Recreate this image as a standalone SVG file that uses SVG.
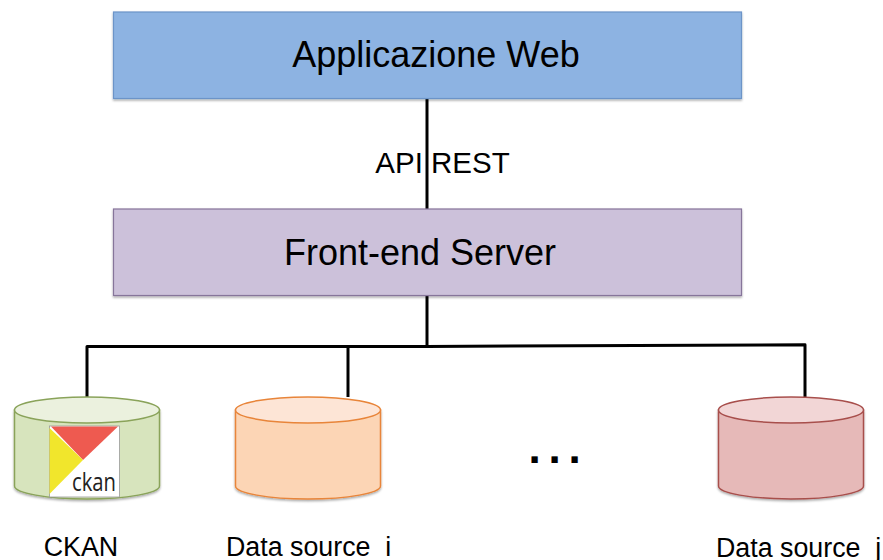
<svg xmlns="http://www.w3.org/2000/svg" width="883" height="560" viewBox="0 0 883 560">
<defs>
<style>
text{font-family:"Liberation Sans",Arial,sans-serif;fill:#000}
.big{font-size:36px}
.mid{font-size:29.500px}
.lab{font-size:26.800px}
.conn{fill:none;stroke:#000;stroke-width:3;stroke-linejoin:round}
.box{stroke-width:1.2}
.cyl{stroke-width:1.5}
</style>
<filter id="sh" x="-5%" y="-5%" width="110%" height="115%"><feDropShadow dx="0" dy="1.5" stdDeviation="1" flood-color="#000" flood-opacity="0.35"/></filter>
</defs>
<g id="connectors">
<path class="conn" d="M427 98V209"/>
<path class="conn" d="M427 295V346"/>
<path class="conn" d="M87 397V346.500H427L805 344.700V397"/>
<path class="conn" d="M348 346.500V397"/>
</g>
<g id="app">
<rect class="box" x="113.500" y="12" width="628" height="86.500" fill="#8db3e2" stroke="#6c94c8" filter="url(#sh)"/>
<text class="big" x="436" y="67" text-anchor="middle">Applicazione Web</text>
</g>
<g id="api-rest"><text class="mid" x="442.500" y="173" text-anchor="middle" xml:space="preserve">API REST</text></g>
<g id="frontend">
<rect class="box" x="113.500" y="209" width="628" height="86.500" fill="#ccc1da" stroke="#86749a" filter="url(#sh)"/>
<text class="big" x="420" y="264.500" text-anchor="middle">Front-end Server</text>
</g>
<g id="ckan">
<path class="cyl" d="M14.500 410V486C14.500 493 47 499 87 499S159.500 493 159.500 486V410Z" fill="#d7e4bd" stroke="#8aa35a" filter="url(#sh)"/>
<ellipse class="cyl" cx="87" cy="410" rx="72.500" ry="13" fill="#ebf1de" stroke="#8aa35a"/>
<rect x="49.500" y="426" width="70" height="71" fill="#fff" stroke="#999" stroke-width="0.800"/>
<path d="M51 426.500H118L83 460Z" fill="#ee5a50"/>
<path d="M49.500 428L83 460L49.500 494Z" fill="#f1e62c"/>
<text x="72" y="491" style="font-family:'Open Sans',sans-serif;font-size:26px;fill:#222" textLength="44" lengthAdjust="spacingAndGlyphs">ckan</text>
<text class="lab" x="81" y="556" text-anchor="middle">CKAN</text>
</g>
<g id="source-i">
<path class="cyl" d="M235.500 410V486C235.500 493 268 499 308 499S380.500 493 380.500 486V410Z" fill="#fcd5b5" stroke="#e8853a" filter="url(#sh)"/>
<ellipse class="cyl" cx="308" cy="410" rx="72.500" ry="13" fill="#fde5d6" stroke="#e8853a"/>
<text class="lab" x="226" y="556" xml:space="preserve">Data source  i</text>
</g>
<g id="ellipsis"><text x="528.500" y="463" style="font-size:44px;font-weight:bold;letter-spacing:7.800px">...</text></g>
<g id="source-j">
<path class="cyl" d="M718.500 410V486C718.500 493 751 499 791 499S863.500 493 863.500 486V410Z" fill="#e6b9b8" stroke="#a84f4c" filter="url(#sh)"/>
<ellipse class="cyl" cx="791" cy="410" rx="72.500" ry="13" fill="#f2d6d6" stroke="#a84f4c"/>
<text class="lab" x="716" y="557" xml:space="preserve">Data source  j</text>
</g>
</svg>
